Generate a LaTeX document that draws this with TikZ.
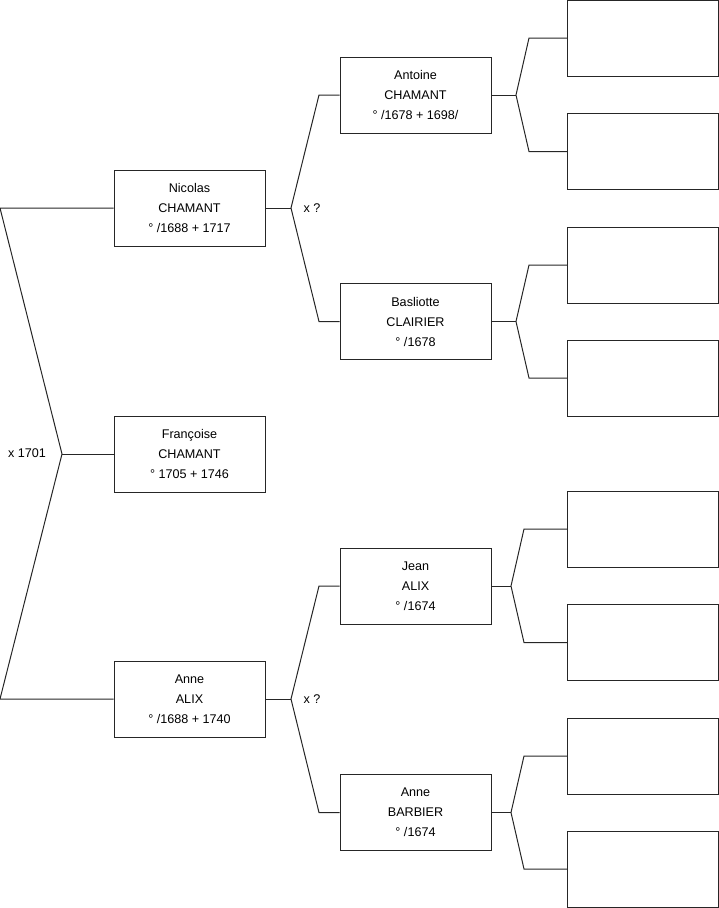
\documentclass[tikz,border=0pt]{standalone}
\usepackage{fontspec}
\setmainfont{Liberation Sans}
\usepackage{tikz}
\usetikzlibrary{positioning}
\tikzset{
  personbox/.style={
    rectangle, draw=black!85, fill=white, line width=1pt,
    minimum width=151pt, minimum height=76pt, inner sep=0pt,
    align=center, font=\fontsize{12.6}{20}\selectfont
  },
  emptybox/.style={personbox},
  branch/.style={draw=black!85, line width=1pt},
  weddinglabel/.style={font=\fontsize{12.6}{14}\selectfont, inner sep=0pt}
}

\begin{document}
\begin{tikzpicture}[x=1pt, y=-1pt]
  \useasboundingbox (0,0) rectangle (719,908);

  % Generation 1
  \node[personbox] (francoise) at (189.5,454) {Françoise\\CHAMANT\\° 1705 + 1746};

  % Parents
  \node[personbox] (nicolas) at (189.5,208) {Nicolas\\CHAMANT\\° /1688 + 1717};
  \node[personbox] (annealix) at (189.5,699) {Anne\\ALIX\\° /1688 + 1740};

  % Grand-parents
  \node[personbox] (antoine) at (415.5,95) {Antoine\\CHAMANT\\° /1678 + 1698/};
  \node[personbox] (basliotte) at (415.5,321.5) {Basliotte\\CLAIRIER\\° /1678};
  \node[personbox] (jean) at (415.5,586) {Jean\\ALIX\\° /1674};
  \node[personbox] (annebarbier) at (415.5,812.5) {Anne\\BARBIER\\° /1674};

  % Great-grand-parents (unknown)
  \node[emptybox] (e1) at (643,38) {};
  \node[emptybox] (e2) at (643,151.5) {};
  \node[emptybox] (e3) at (643,265) {};
  \node[emptybox] (e4) at (643,378) {};
  \node[emptybox] (e5) at (643,529) {};
  \node[emptybox] (e6) at (643,642.5) {};
  \node[emptybox] (e7) at (643,756) {};
  \node[emptybox] (e8) at (643,869) {};

  % Marriages
  \node[weddinglabel] (m1) at (27,453) {x 1701};
  \node[weddinglabel] (m2) at (312,208) {x ?};
  \node[weddinglabel] (m3) at (312,699) {x ?};

  % Fork points
  \coordinate (ptop) at (0,208);
  \coordinate (pbot) at (0,699);
  \coordinate (pfork) at (62,454);
  \coordinate (nfork) at (291,208);
  \coordinate (nup) at (319,95);
  \coordinate (ndown) at (319,321.5);
  \coordinate (afork) at (291,699);
  \coordinate (aup) at (319,586);
  \coordinate (adown) at (319,812.5);
  \coordinate (f1) at (516,95);
  \coordinate (f1a) at (529,38);
  \coordinate (f1b) at (529,151.5);
  \coordinate (f2) at (516,321.5);
  \coordinate (f2a) at (529,265);
  \coordinate (f2b) at (529,378);
  \coordinate (f3) at (511,586);
  \coordinate (f3a) at (524,529);
  \coordinate (f3b) at (524,642.5);
  \coordinate (f4) at (511,812.5);
  \coordinate (f4a) at (524,756);
  \coordinate (f4b) at (524,869);

  % Connectors
  \draw[branch] (nicolas.west) -- (ptop) -- (pfork) -- (pbot) -- (annealix.west);
  \draw[branch] (pfork) -- (francoise.west);

  \draw[branch] (nicolas.east) -- (nfork);
  \draw[branch] (antoine.west) -- (nup) -- (nfork) -- (ndown) -- (basliotte.west);
  \draw[branch] (annealix.east) -- (afork);
  \draw[branch] (jean.west) -- (aup) -- (afork) -- (adown) -- (annebarbier.west);

  \draw[branch] (antoine.east) -- (f1);
  \draw[branch] (e1.west) -- (f1a) -- (f1) -- (f1b) -- (e2.west);
  \draw[branch] (basliotte.east) -- (f2);
  \draw[branch] (e3.west) -- (f2a) -- (f2) -- (f2b) -- (e4.west);
  \draw[branch] (jean.east) -- (f3);
  \draw[branch] (e5.west) -- (f3a) -- (f3) -- (f3b) -- (e6.west);
  \draw[branch] (annebarbier.east) -- (f4);
  \draw[branch] (e7.west) -- (f4a) -- (f4) -- (f4b) -- (e8.west);
\end{tikzpicture}
\end{document}
